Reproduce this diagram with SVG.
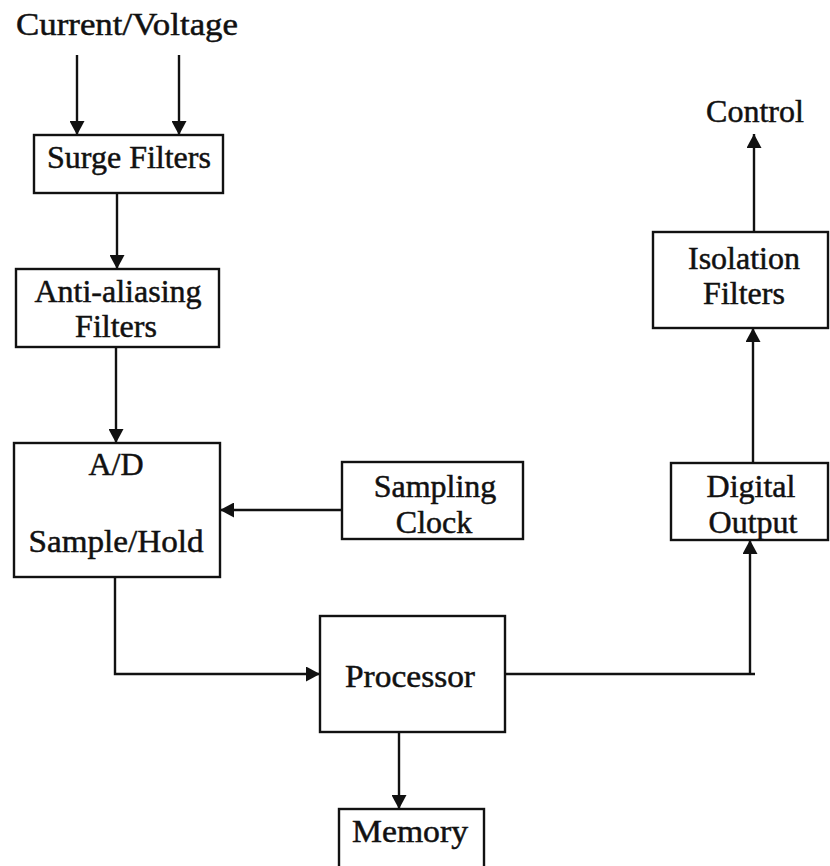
<svg xmlns="http://www.w3.org/2000/svg" width="830" height="866" viewBox="0 0 830 866">
<style>
.box{fill:#fff;stroke:#111;stroke-width:2.4}
.lbl{font-family:"Liberation Serif","Times New Roman",serif;font-size:32px;fill:#111;stroke:#111;stroke-width:0.5;text-anchor:middle}
.ln{fill:none;stroke:#111;stroke-width:2.4}
</style>
<defs>
<marker id="ah" markerUnits="userSpaceOnUse" viewBox="0 0 14 15" refX="14" refY="7.5" markerWidth="14" markerHeight="15" orient="auto">
<path d="M0,0 L14,7.5 L0,15 Z" fill="#111"/>
</marker>
</defs>
<rect width="830" height="866" fill="#fff"/>
<g id="connectors">
<line class="ln" x1="77" y1="55" x2="77" y2="135" marker-end="url(#ah)"/>
<line class="ln" x1="179" y1="55" x2="179" y2="135" marker-end="url(#ah)"/>
<line class="ln" x1="117" y1="193" x2="117" y2="269" marker-end="url(#ah)"/>
<line class="ln" x1="116" y1="347" x2="116" y2="443" marker-end="url(#ah)"/>
<line class="ln" x1="342" y1="510" x2="220" y2="510" marker-end="url(#ah)"/>
<polyline class="ln" points="115,577 115,674 320,674" marker-end="url(#ah)"/>
<line class="ln" x1="505" y1="674" x2="755" y2="674"/>
<line class="ln" x1="750" y1="674" x2="750" y2="540" marker-end="url(#ah)"/>
<line class="ln" x1="753" y1="463" x2="753" y2="328" marker-end="url(#ah)"/>
<line class="ln" x1="754" y1="232" x2="754" y2="134" marker-end="url(#ah)"/>
<line class="ln" x1="399" y1="732" x2="399" y2="809" marker-end="url(#ah)"/>
</g>
<g id="input">
<text class="lbl" x="127" y="35" textLength="222" lengthAdjust="spacingAndGlyphs">Current/Voltage</text>
</g>
<g id="surge">
<rect class="box" x="34" y="135" width="189" height="58"/>
<text class="lbl" x="129" y="168">Surge Filters</text>
</g>
<g id="antialias">
<rect class="box" x="16" y="269" width="203" height="78"/>
<text class="lbl" x="118" y="302">Anti-aliasing</text>
<text class="lbl" x="116" y="337">Filters</text>
</g>
<g id="ad">
<rect class="box" x="14" y="443" width="206" height="134"/>
<text class="lbl" x="116" y="475">A/D</text>
<text class="lbl" x="116" y="552" textLength="175" lengthAdjust="spacingAndGlyphs">Sample/Hold</text>
</g>
<g id="clock">
<rect class="box" x="342" y="462" width="181" height="77"/>
<text class="lbl" x="435" y="497">Sampling</text>
<text class="lbl" x="434" y="533">Clock</text>
</g>
<g id="processor">
<rect class="box" x="320" y="616" width="185" height="116"/>
<text class="lbl" x="410" y="687" textLength="130" lengthAdjust="spacingAndGlyphs">Processor</text>
</g>
<g id="memory">
<rect class="box" x="339" y="809" width="145" height="90"/>
<text class="lbl" x="410" y="842" textLength="116" lengthAdjust="spacingAndGlyphs">Memory</text>
</g>
<g id="control">
<text class="lbl" x="755" y="122">Control</text>
</g>
<g id="isolation">
<rect class="box" x="653" y="232" width="175" height="96"/>
<text class="lbl" x="744" y="269">Isolation</text>
<text class="lbl" x="744" y="304">Filters</text>
</g>
<g id="digital">
<rect class="box" x="671" y="463" width="157" height="77"/>
<text class="lbl" x="751" y="497">Digital</text>
<text class="lbl" x="753" y="533">Output</text>
</g>
</svg>
